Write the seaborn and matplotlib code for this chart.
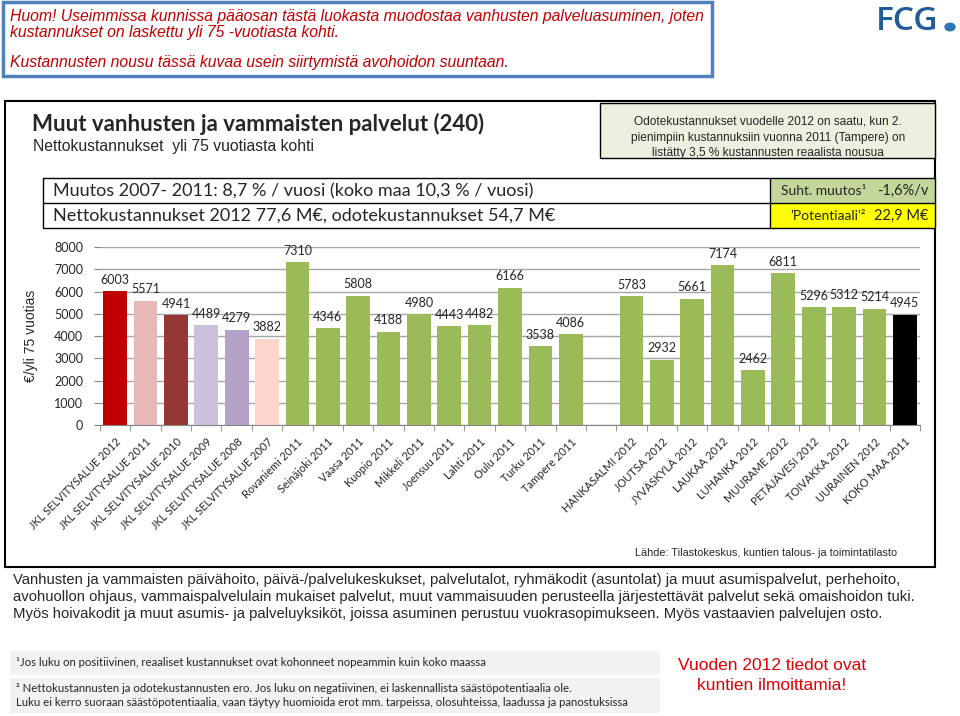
"""
Muut vanhusten ja vammaisten palvelut (240):
nettokustannukset yli 75 vuotiasta kohti, bar chart with the slide decorations.
"""

import matplotlib.pyplot as plt
import matplotlib.patches as mpatches
import numpy as np
import seaborn as sns


names = ['JKL SELVITYSALUE 2012', 'JKL SELVITYSALUE 2011', 'JKL SELVITYSALUE 2010',
         'JKL SELVITYSALUE 2009', 'JKL SELVITYSALUE 2008', 'JKL SELVITYSALUE 2007',
         'Rovaniemi 2011', 'Seinäjoki 2011', 'Vaasa 2011', 'Kuopio 2011', 'Mikkeli 2011',
         'Joensuu 2011', 'Lahti 2011', 'Oulu 2011', 'Turku 2011', 'Tampere 2011',
         ' ',
         'HANKASALMI 2012', 'JOUTSA 2012', 'JYVÄSKYLÄ 2012', 'LAUKAA 2012', 'LUHANKA 2012',
         'MUURAME 2012', 'PETÄJÄVESI 2012', 'TOIVAKKA 2012', 'UURAINEN 2012', 'KOKO MAA 2011']

values = [6003, 5571, 4941, 4489, 4279, 3882,
          7310, 4346, 5808, 4188, 4980, 4443, 4482, 6166, 3538, 4086,
          0,
          5783, 2932, 5661, 7174, 2462, 6811, 5296, 5312, 5214, 4945]

jkl_colors = ['#c00000', '#e6b9b8', '#953735', '#ccc1da', '#b3a2c7', '#fcd5cd']
green = '#9bbb59'
colors = jkl_colors + [green] * 10 + ['white'] + [green] * 9 + ['black']

y_ticks = [0, 1000, 2000, 3000, 4000, 5000, 6000, 7000, 8000]

W, H = 960, 716
CAL = ['Lato', 'DejaVu Sans']
NAR = ['Liberation Sans', 'DejaVu Sans']


def fx(x):
    return x / W


def fy(y):
    return 1 - y / H


def box(fig, x0, y0, x1, y1, fc='none', ec='black', lw=1.0, z=0):
    r = mpatches.Rectangle((fx(x0), fy(y1)), fx(x1 - x0), (y1 - y0) / H,
                           transform=fig.transFigure, facecolor=fc, edgecolor=ec,
                           linewidth=lw, zorder=z)
    fig.add_artist(r)


def txt(fig, x, y, s, **kw):
    fig.text(fx(x), fy(y), s, **kw)


sns.set_style('white')
fig = plt.figure(figsize=(9.6, 7.16), dpi=100)

# top note box
box(fig, 3, 2, 712, 76, ec='#4f81bd', lw=2.5)
red = '#c00000'
for y, line in [(16, 'Huom! Useimmissa kunnissa pääosan tästä luokasta muodostaa vanhusten palveluasuminen, joten'),
                (32, 'kustannukset on laskettu yli 75 -vuotiasta kohti.'),
                (63, 'Kustannusten nousu tässä kuvaa usein siirtymistä avohoidon suuntaan.')]:
    txt(fig, 10, y, line, family=NAR, style='italic', color=red, fontsize=11.3, va='center')

# logo
txt(fig, 876, 21, 'FCG', family=['Open Sans', 'DejaVu Sans'], color='#1f5c99',
    fontsize=24, va='center', ha='left', weight='semibold')
fig.add_artist(mpatches.Circle((fx(950), fy(27)), 5 / W, transform=fig.transFigure,
                               color='#2e75b6'))

# main frame
box(fig, 5, 101, 935, 567, lw=1.5)

txt(fig, 32, 124, 'Muut vanhusten ja vammaisten palvelut (240)', family=CAL,
    fontsize=16, weight='bold', va='center')
txt(fig, 33, 146, 'Nettokustannukset  yli 75 vuotiasta kohti', family=NAR,
    fontsize=11.3, va='center')

box(fig, 600, 103, 935, 158, fc='#ebf1de', ec='black', lw=1.0)
for i, line in enumerate(['Odotekustannukset vuodelle 2012 on saatu, kun 2.',
                          'pienimpiin kustannuksiin vuonna 2011 (Tampere) on',
                          'listätty 3,5 % kustannusten reaalista nousua']):
    txt(fig, 768, 122 + i * 15.5, line, family=NAR, fontsize=8.6, ha='center', va='center')

# stats table
box(fig, 770, 178, 935, 203, fc='#c4d79b', lw=0)
box(fig, 770, 203, 935, 228, fc='#ffff00', lw=0)
box(fig, 43, 178, 935, 228, lw=1.0)
fig.add_artist(plt.Line2D([fx(43), fx(935)], [fy(203), fy(203)], transform=fig.transFigure,
                          color='black', lw=1.0))
fig.add_artist(plt.Line2D([fx(770), fx(770)], [fy(178), fy(228)], transform=fig.transFigure,
                          color='black', lw=1.0))
txt(fig, 53, 191, 'Muutos 2007- 2011: 8,7 % / vuosi (koko maa 10,3 % / vuosi)', family=CAL,
    fontsize=13, va='center')
txt(fig, 53, 216, 'Nettokustannukset 2012 77,6 M€, odotekustannukset 54,7 M€', family=CAL,
    fontsize=13, va='center')
txt(fig, 866, 191, 'Suht. muutos¹', family=CAL, fontsize=10, va='center', ha='right')
txt(fig, 929, 191, '-1,6%/v', family=CAL, fontsize=10.5, va='center', ha='right')
txt(fig, 866, 216, "'Potentiaali'²", family=CAL, fontsize=10, va='center', ha='right')
txt(fig, 929, 216, '22,9 M€', family=CAL, fontsize=10.5, va='center', ha='right')

# chart
ax = fig.add_axes([fx(100), fy(425), fx(820), (425 - 247) / H])
palette = dict(zip(names, colors))
sns.barplot(x=names, y=values, hue=names, palette=palette, legend=False,
            order=names, width=0.78, saturation=1, ax=ax)
for bar in ax.patches:
    bar.set_edgecolor('none')

for cont in ax.containers:
    labels = ['' if v <= 0 else f'{v:.0f}' for v in cont.datavalues]
    ax.bar_label(cont, labels=labels, padding=4, fontsize=9, family=CAL)

ax.set_ylim(0, 8000)
ax.set_xlim(-0.5, len(names) - 0.5)
ax.set_yticks(y_ticks)
ax.set_yticklabels([str(t) for t in y_ticks], family=CAL, fontsize=9)
ax.yaxis.grid(True, color='#a6a6a6', lw=1)
ax.set_axisbelow(True)
for side in ['top', 'right', 'left']:
    ax.spines[side].set_visible(False)
ax.spines['bottom'].set_color('#868686')
ax.tick_params(axis='y', length=4, color='#868686', left=True, pad=8)

ax.set_xticks(np.arange(len(names)))
ax.set_xticklabels(names, rotation=45, ha='right', va='top', rotation_mode='anchor',
                   family=CAL, fontsize=7.9)
ax.set_xticks(np.arange(len(names) + 1) - 0.5, minor=True)
ax.tick_params(axis='x', which='major', length=0, pad=8)
ax.tick_params(axis='x', which='minor', length=4, color='#868686', bottom=True)
ax.set_xlabel('')
ax.set_ylabel('€/yli 75 vuotias', family=NAR, fontsize=10, labelpad=12)

txt(fig, 897, 553, 'Lähde: Tilastokeskus, kuntien talous- ja toimintatilasto', family=NAR,
    fontsize=7.8, ha='right', va='center')

# description
desc = ['Vanhusten ja vammaisten päivähoito, päivä-/palvelukeskukset, palvelutalot, ryhmäkodit (asuntolat) ja muut asumispalvelut, perhehoito,',
        'avohuollon ohjaus, vammaispalvelulain mukaiset palvelut, muut vammaisuuden perusteella järjestettävät palvelut sekä omaishoidon tuki.',
        'Myös hoivakodit ja muut asumis- ja palveluyksiköt, joissa asuminen perustuu vuokrasopimukseen. Myös vastaavien palvelujen osto.']
for i, line in enumerate(desc):
    txt(fig, 13, 580 + i * 17, line, family=NAR, fontsize=10.7, va='center')

# footnotes
box(fig, 10, 651, 660, 675, fc='#f2f2f2', ec='none', lw=0)
box(fig, 10, 678, 660, 713, fc='#f2f2f2', ec='none', lw=0)
txt(fig, 16, 663, '¹Jos luku on positiivinen, reaaliset kustannukset ovat kohonneet nopeammin kuin koko maassa',
    family=CAL, fontsize=8.2, va='center')
txt(fig, 16, 688, '² Nettokustannusten ja odotekustannusten ero. Jos luku on negatiivinen, ei laskennallista säästöpotentiaalia ole.',
    family=CAL, fontsize=8.2, va='center')
txt(fig, 16, 702, 'Luku ei kerro suoraan säästöpotentiaalia, vaan täytyy huomioida erot mm. tarpeissa, olosuhteissa, laadussa ja panostuksissa',
    family=CAL, fontsize=8.2, va='center')

txt(fig, 772, 666, 'Vuoden 2012 tiedot ovat', family=NAR, fontsize=12.5, color='#e00000',
    ha='center', va='center')
txt(fig, 772, 686, 'kuntien ilmoittamia!', family=NAR, fontsize=12.5, color='#e00000',
    ha='center', va='center')

fig.savefig('out.png', dpi=100)
